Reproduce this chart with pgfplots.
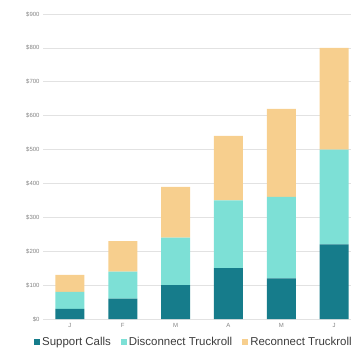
\documentclass[border=0pt]{standalone}
\usepackage{pgfplots}
\pgfplotsset{compat=1.18}
\usepackage{fontspec}
\setmainfont{Liberation Sans}
\definecolor{cDark}{RGB}{22,124,139}
\definecolor{cLight}{RGB}{125,224,214}
\definecolor{cOrange}{RGB}{247,207,142}
\definecolor{cGrid}{RGB}{226,226,226}
\definecolor{cTick}{RGB}{130,130,130}
\definecolor{cLeg}{RGB}{60,60,60}
\begin{document}
\begin{tikzpicture}
\begin{axis}[
  name=ax,
  scale only axis,
  width=308bp, height=305bp,
  ybar stacked,
  bar width=29bp,
  xmin=-0.51, xmax=5.32,
  ymin=0, ymax=900,
  axis line style={draw=none},
  tick style={draw=none},
  ymajorgrids,
  grid style={cGrid, line width=0.6pt},
  ytick={0,100,...,900},
  yticklabels={\$0,\$100,\$200,\$300,\$400,\$500,\$600,\$700,\$800,\$900},
  yticklabel style={font=\fontsize{6}{7}\selectfont, text=cTick},
  xtick={0,1,2,3,4,5},
  xticklabels={J,F,M,A,M,J},
  xticklabel style={font=\fontsize{6}{7}\selectfont, text=cTick, yshift=-1bp},
  legend columns=3,
  legend style={draw=none, fill=none, at={(0.49,0)}, anchor=north, yshift=-16bp,
    font=\fontsize{11.5}{12}\selectfont, text=cLeg, inner sep=0pt,
    /tikz/every even column/.append style={column sep=8bp}},
  legend image code/.code={\fill[#1] (0bp,-3bp) rectangle (6bp,3bp);},
]
\addplot[draw=none, fill=cDark] coordinates {(0,30) (1,60) (2,100) (3,150) (4,120) (5,220)};
\addplot[draw=none, fill=cLight] coordinates {(0,50) (1,80) (2,140) (3,200) (4,240) (5,280)};
\addplot[draw=none, fill=cOrange] coordinates {(0,50) (1,90) (2,150) (3,190) (4,260) (5,300)};
\legend{Support Calls, Disconnect Truckroll, Reconnect Truckroll}
\end{axis}
\pgfresetboundingbox
\path[use as bounding box] ([xshift=-43bp,yshift=-35bp]ax.south west) rectangle ([yshift=14bp]ax.north east);
\end{tikzpicture}
\end{document}
